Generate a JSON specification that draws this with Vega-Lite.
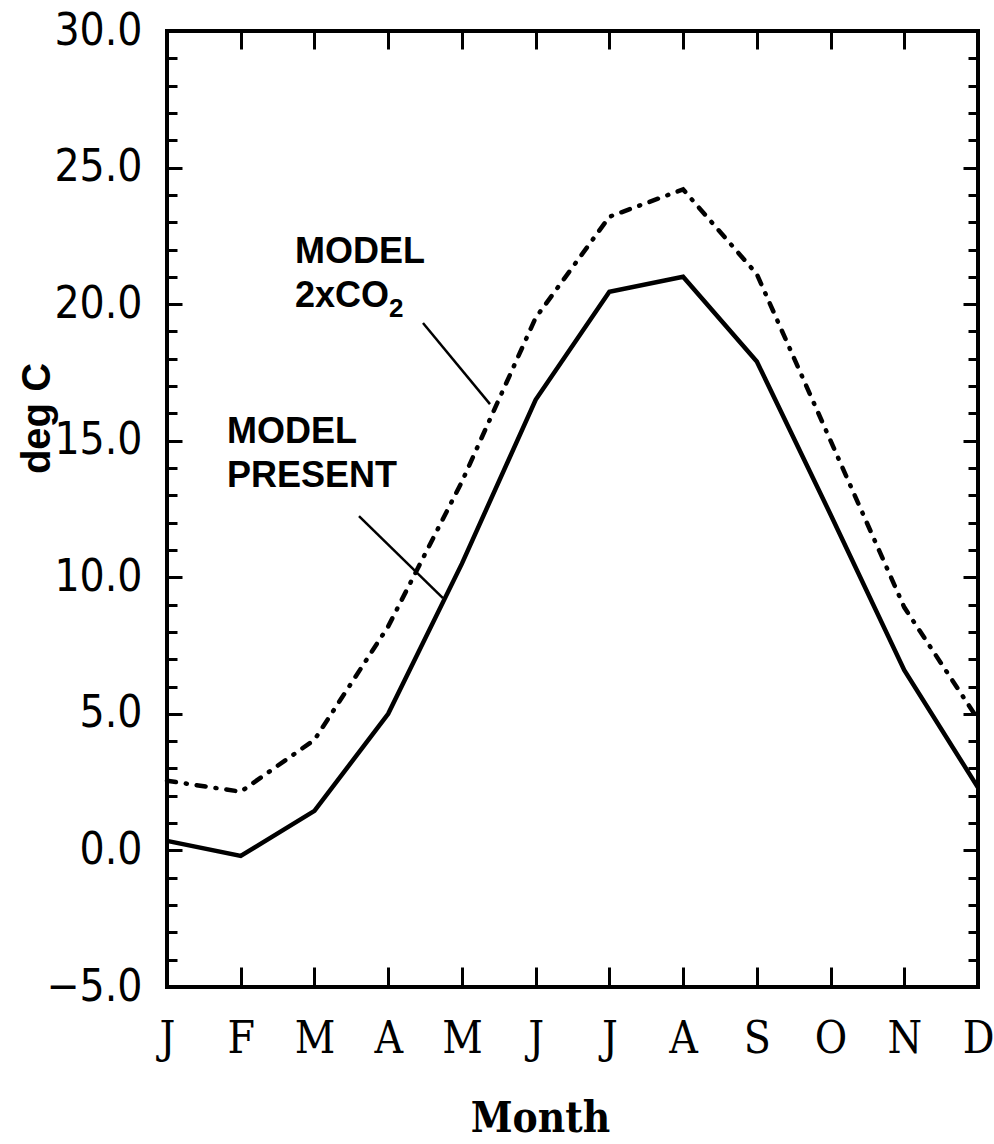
{
  "$schema": "https://vega.github.io/schema/vega-lite/v6.json",
  "width": 811,
  "height": 956,
  "autosize": {"type": "none"},
  "padding": {"left": 167, "top": 31, "right": 16, "bottom": 157},
  "background": "white",
  "config": {
    "view": {"stroke": "black", "strokeWidth": 4},
    "axis": {"grid": false, "domain": false, "tickColor": "black", "labelColor": "black", "titleColor": "black", "tickWidth": 3, "labelOverlap": false, "labelFlush": false}
  },
  "datasets": {
    "temps": [
      {"m": 0, "mon": "J", "present": 0.35, "co2": 2.55},
      {"m": 1, "mon": "F", "present": -0.2, "co2": 2.15},
      {"m": 2, "mon": "M", "present": 1.45, "co2": 4.05},
      {"m": 3, "mon": "A", "present": 5.0, "co2": 8.2},
      {"m": 4, "mon": "M", "present": 10.5, "co2": 13.5},
      {"m": 5, "mon": "J", "present": 16.5, "co2": 19.5},
      {"m": 6, "mon": "J", "present": 20.45, "co2": 23.2},
      {"m": 7, "mon": "A", "present": 21.0, "co2": 24.2},
      {"m": 8, "mon": "S", "present": 17.9, "co2": 21.1},
      {"m": 9, "mon": "O", "present": 12.3, "co2": 15.0},
      {"m": 10, "mon": "N", "present": 6.6, "co2": 8.9},
      {"m": 11, "mon": "D", "present": 2.3, "co2": 4.8}
    ],
    "leaders": [
      {"m1": 3.472, "v1": 19.31, "m2": 4.381, "v2": 16.34},
      {"m1": 2.604, "v1": 12.24, "m2": 3.743, "v2": 9.24}
    ],
    "notes": [
      {"m": 1.736, "t": 21.5, "txt": "MODEL"},
      {"m": 1.736, "t": 19.9, "txt": "2xCO"},
      {"m": 0.814, "t": 14.9, "txt": "MODEL"},
      {"m": 0.814, "t": 13.3, "txt": "PRESENT"}
    ],
    "subs": [
      {"m": 3.011, "t": 19.53, "txt": "2"}
    ]
  },
  "resolve": {"axis": {"x": "independent", "y": "independent"}},
  "layer": [
    {
      "data": {"name": "temps"},
      "mark": {"type": "line", "color": "black", "strokeWidth": 4.5},
      "encoding": {
        "x": {
          "field": "m", "type": "quantitative",
          "scale": {"domain": [0, 11], "nice": false, "zero": false},
          "axis": {
            "orient": "bottom", "values": [0,1,2,3,4,5,6,7,8,9,10,11],
            "labelExpr": "['J','F','M','A','M','J','J','A','S','O','N','D'][datum.value]",
            "ticks": false,
            "labelFont": "DejaVu Serif Condensed", "labelFontSize": 44, "labelPadding": 30,
            "title": "Month", "titleFont": "DejaVu Serif Condensed", "titleFontWeight": "bold", "titleFontSize": 42,
            "titleX": 373, "titleY": 131, "titleBaseline": "middle", "titleAlign": "center"
          }
        },
        "y": {
          "field": "present", "type": "quantitative",
          "scale": {"domain": [-5, 30], "nice": false, "zero": false},
          "axis": {
            "orient": "left", "values": [-5,0,5,10,15,20,25,30], "format": ".1f",
            "ticks": false,
            "labelFont": "Liberation Sans Narrow, DejaVu Sans Condensed", "labelFontSize": 44, "labelPadding": 25,
            "title": "deg C", "titleFont": "Liberation Sans", "titleFontWeight": "bold", "titleFontSize": 40,
            "titleX": -130, "titleY": 387, "titleAngle": 270, "titleAlign": "center", "titleBaseline": "middle"
          }
        }
      }
    },
    {
      "data": {"name": "temps"},
      "mark": {"type": "line", "color": "black", "strokeWidth": 4.5, "strokeDash": [9, 10, 1, 10], "strokeCap": "round"},
      "encoding": {
        "x": {
          "field": "m", "type": "quantitative",
          "scale": {"domain": [0, 11], "nice": false, "zero": false},
          "axis": {"orient": "top", "values": [1,2,3,4,5,6,7,8,9,10], "labels": false, "tickSize": -18, "title": null}
        },
        "y": {
          "field": "co2", "type": "quantitative",
          "scale": {"domain": [-5, 30], "nice": false, "zero": false},
          "axis": {"orient": "right", "values": [-4,-3,-2,-1,0,1,2,3,4,5,6,7,8,9,10,11,12,13,14,15,16,17,18,19,20,21,22,23,24,25,26,27,28,29], "labels": false, "tickSize": -10, "title": null}
        }
      }
    },
    {
      "data": {"name": "leaders"},
      "mark": {"type": "rule", "color": "black", "strokeWidth": 2.5},
      "encoding": {
        "x": {
          "field": "m1", "type": "quantitative",
          "scale": {"domain": [0, 11], "nice": false, "zero": false},
          "axis": {"orient": "bottom", "values": [1,2,3,4,5,6,7,8,9,10], "labels": false, "tickSize": -20, "title": null}
        },
        "x2": {"field": "m2"},
        "y": {
          "field": "v1", "type": "quantitative",
          "scale": {"domain": [-5, 30], "nice": false, "zero": false},
          "axis": {"orient": "left", "values": [-4,-3,-2,-1,0,1,2,3,4,5,6,7,8,9,10,11,12,13,14,15,16,17,18,19,20,21,22,23,24,25,26,27,28,29], "labels": false, "tickSize": -10, "title": null}
        },
        "y2": {"field": "v2"}
      }
    },
    {
      "data": {"name": "notes"},
      "mark": {"type": "text", "color": "black", "align": "left", "baseline": "alphabetic", "font": "Liberation Sans", "fontWeight": "bold", "fontSize": 36},
      "encoding": {
        "x": {"field": "m", "type": "quantitative", "scale": {"domain": [0, 11], "nice": false, "zero": false}, "axis": null},
        "y": {
          "field": "t", "type": "quantitative",
          "scale": {"domain": [-5, 30], "nice": false, "zero": false},
          "axis": {"orient": "left", "values": [0,5,10,15,20,25], "labels": false, "tickSize": -15, "title": null}
        },
        "text": {"field": "txt"}
      }
    },
    {
      "data": {"name": "subs"},
      "mark": {"type": "text", "color": "black", "align": "left", "baseline": "alphabetic", "font": "Liberation Sans", "fontWeight": "bold", "fontSize": 26},
      "encoding": {
        "x": {"field": "m", "type": "quantitative", "scale": {"domain": [0, 11], "nice": false, "zero": false}, "axis": null},
        "y": {
          "field": "t", "type": "quantitative",
          "scale": {"domain": [-5, 30], "nice": false, "zero": false},
          "axis": {"orient": "right", "values": [0,5,10,15,20,25], "labels": false, "tickSize": -15, "title": null}
        },
        "text": {"field": "txt"}
      }
    }
  ]
}
